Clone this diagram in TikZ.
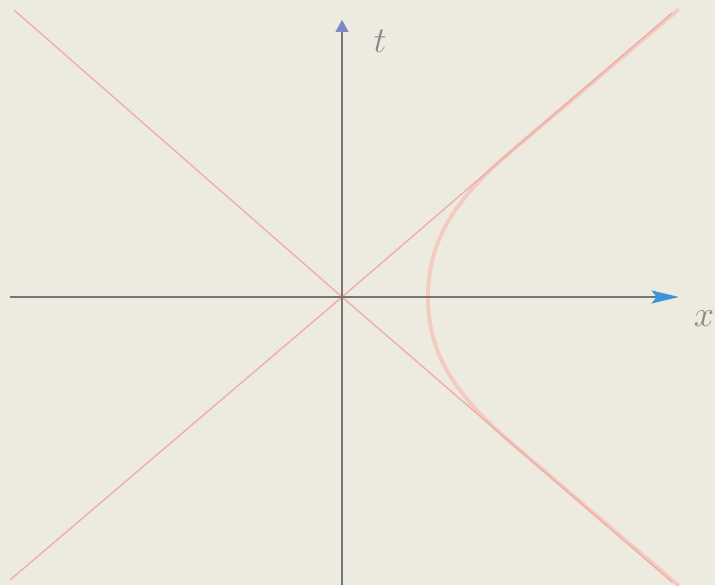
\documentclass[tikz,border=0pt]{standalone}
\definecolor{paper}{RGB}{237,235,223}
\definecolor{axisgray}{RGB}{118,118,118}
\definecolor{tipblue}{RGB}{58,150,215}
\definecolor{tiplav}{RGB}{125,135,195}
\definecolor{cone}{RGB}{238,175,168}
\definecolor{hyper}{RGB}{245,202,192}
\usepackage{amsmath}
\usetikzlibrary{arrows.meta,positioning}
\tikzset{
  axis/.style={axisgray, line width=0.8pt},
  coneline/.style={cone, line width=0.8pt},
  worldline/.style={hyper, line width=2.2pt, line cap=round},
  lbl/.style={text=axisgray!85, font=\fontsize{22}{26}\selectfont, inner sep=0pt},
}

\begin{document}
\begin{tikzpicture}[x=0.02cm, y=0.02cm]
  \fill[paper] (-342,-288) rectangle (373,297);
  \useasboundingbox (-342,-288) rectangle (373,297);
  % origin and axis ends
  \coordinate (o) at (0,0);
  \coordinate (xl) at (-332,0);
  \coordinate (xr) at (337,0);
  \coordinate (tb) at (0,-288);
  \coordinate (tt) at (0,277);
  % light cone
  \coordinate (ul) at (-328,287);
  \coordinate (lr) at (330,-285);
  \coordinate (ll) at (-332,-283);
  \coordinate (ur) at (330,284);
  % hyperbola
  \coordinate (hv) at (86,0);
  \coordinate (hu) at (166,143);
  \coordinate (hd) at (166,-143);
  \coordinate (hue) at (336,287);
  \coordinate (hde) at (336,-288);
  \draw[worldline] (hde) -- (hd) .. controls (108,-93) and (86,-52) .. (hv)
    .. controls (86,52) and (108,93) .. (hu) -- (hue);
  \draw[coneline] (ul) -- (o) -- (lr);
  \draw[coneline] (ll) -- (o) -- (ur);
  % axes
  \draw[axis, -{Stealth[length=5.5mm, width=2.6mm, inset=1mm, color=tipblue, fill=tipblue]}] (xl) -- (xr);
  \draw[axis, line width=0.6pt, -{Triangle[length=2.4mm, width=2.6mm, color=tiplav, fill=tiplav]}] (tb) -- (tt);
  \node[lbl] (tlab) at (38,256) {$t$};
  \node[lbl] (xlab) at (362,-22) {$x$};
\end{tikzpicture}
\end{document}
